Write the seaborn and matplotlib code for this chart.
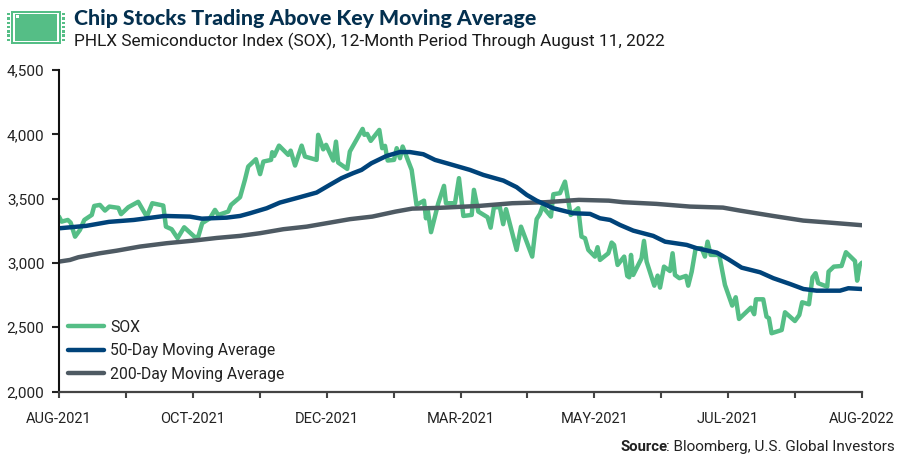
import matplotlib
matplotlib.use('Agg')
import matplotlib.pyplot as plt
from matplotlib.patches import Rectangle
import seaborn as sns

# days since the start of the 12-month window, with index level
sox_days = [0, 1.2, 4, 5.3, 7.3, 9.5, 11.5, 14.9, 16, 18.6, 20.9, 22.9, 27, 28.2, 31.5, 36, 39.9, 42.4, 47.4, 48.6,
            51.2, 53.9, 56.9, 61.8, 63.3, 65.1, 68.6, 70.9, 72.4, 76.9, 78.2, 82.3, 84.5, 86, 89.5, 91.4, 92.9, 96.4,
            96.9, 97.8, 100, 104.2, 105.3, 107.3, 110.3, 111.8, 117.1, 117.8, 120.1, 121.4, 124.7, 125.9, 126.9, 131,
            132.2, 138, 138.8, 140.1, 141.7, 145.6, 146.9, 148.2, 149.4, 152.3, 153.5, 155, 156.2, 160.3, 162.5, 165.9,
            166.8, 167.6, 169.1, 172.4, 175, 175.9, 180, 181.8, 183.8, 187.6, 188.6, 190.6, 194.8, 196.2, 197.7, 200.4,
            201.9, 203.2, 208, 210, 215.1, 217.1, 218.6, 219.8, 223.6, 224.7, 227.7, 230, 232.6, 236, 237.5, 239.1,
            240.6, 243.6, 244.8, 245.9, 249.7, 251.2, 252.3, 253.9, 256.9, 258.3, 259.2, 260, 261, 264.8, 265.9, 267.1,
            270.6, 272.1, 273.2, 275, 277.7, 278.9, 280, 282, 285, 286, 287.6, 289.4, 292.1, 293.6, 294.8, 296.2,
            300.1, 302.7, 306, 307.6, 309.1, 314.5, 316, 316.8, 320.1, 321.6, 322.7, 323.9, 328.5, 330, 334.5, 336.5,
            337.8, 340.9, 342.5, 343.9, 345.1, 349.2, 349.8, 352.2, 355.7, 357.7, 361.8, 362.8, 364, 365]
sox = [3360, 3321, 3334, 3313, 3204, 3256, 3334, 3373, 3443, 3451, 3407, 3438, 3428, 3379, 3433, 3475, 3360, 3464, 3446, 3282,
       3262, 3192, 3277, 3200, 3204, 3309, 3347, 3412, 3373, 3399, 3451, 3511, 3645, 3749, 3806, 3690, 3788, 3801,
       3861, 3832, 3912, 3840, 3873, 3757, 3912, 3827, 3801, 3996, 3883, 3918, 3796, 3943, 3780, 3731,
       3866, 4042, 3996, 4003, 3949, 4034, 3892, 3910, 3796, 3801, 3892, 3814, 3905, 3723, 3451, 3484,
       3347, 3412, 3239, 3464, 3599, 3464, 3464, 3659, 3365, 3373, 3568, 3399, 3355, 3274, 3433, 3433,
       3301, 3418, 3101, 3282, 3049, 3340, 3381, 3438, 3360, 3534, 3542, 3632, 3373, 3425, 3204, 3192,
       3101, 3049, 3122, 3023, 3075, 3158, 3140, 2984, 3049, 2899, 2888, 3062, 2906, 3036, 3171, 3010,
       2823, 2901, 2808, 2971, 2937, 3075, 2906, 2881, 2899, 2823, 2932, 3114, 3114, 3049, 3165, 3062,
       3062, 2829, 2668, 2733, 2564, 2652, 2601, 2717, 2717, 2582, 2570, 2453, 2478, 2616, 2548, 2595,
       2694, 2678, 2888, 2920, 2842, 2815, 2932, 2971, 2976, 3083, 3015, 2862, 2984, 3002]

ma50_days = [0, 12.4, 22.7, 34, 48, 59.5, 64.9, 76.2, 82.3, 86.8, 94.4, 100.4, 109.5, 117.1, 123.1, 128.4, 133.7, 137.5,
             142, 148.9, 155, 159.5, 165.6, 170.9, 177.7, 186.8, 192.9, 202, 208, 212.6, 217.1, 224.7, 233.8, 241.4,
             245.9, 250.5, 255, 261, 270.1, 275.5, 285.3, 289.9, 299, 304.2, 310.3, 318.7, 324.7, 332.3, 338.4, 344.4,
             355, 358.8, 365]
ma50 = [3269, 3288, 3319, 3334, 3365, 3360, 3344, 3352, 3365, 3386, 3425, 3469, 3511, 3547, 3607, 3659, 3698, 3723,
        3775, 3832, 3862, 3862, 3845, 3801, 3768, 3723, 3684, 3640, 3589, 3529, 3484, 3425, 3386, 3381,
        3347, 3334, 3295, 3251, 3210, 3165, 3140, 3114, 3080, 3029, 2963, 2927, 2881, 2836, 2797, 2784,
        2784, 2803, 2797]

ma200_days = [0, 5, 8.8, 18.6, 26.2, 36.8, 48.9, 61, 71.7, 82.3, 91.4, 102, 112.6, 123.1, 132.2, 142.4, 153, 160.5,
              172.7, 190.9, 206, 221.2, 236.3, 249.9, 256.4, 271.5, 286.8, 301.8, 309.4, 324.6, 338.3, 350.5, 365]
ma200 = [3010, 3023, 3044, 3075, 3095, 3127, 3153, 3173, 3194, 3210, 3231, 3262, 3282, 3313, 3340, 3360, 3399, 3422,
         3428, 3443, 3464, 3472, 3490, 3484, 3472, 3459, 3438, 3430, 3407, 3365, 3329, 3313, 3293]

x_labels = ['AUG-2021', 'OCT-2021', 'DEC-2021', 'MAR-2021', 'MAY-2021', 'JUL-2021', 'AUG-2022']
y_ticks = [2000, 2500, 3000, 3500, 4000, 4500]

GREEN = '#55BE86'
NAVY = '#00437A'
GREY = '#4E5A63'

sns.set_theme(style='ticks')
plt.rcParams['font.family'] = ['Roboto', 'DejaVu Sans']

fig = plt.figure(figsize=(9, 4.59), dpi=100)
ax = fig.add_axes([59 / 900, 1 - 391.5 / 459, 803 / 900, 321.5 / 459])

sns.lineplot(x=sox_days, y=sox, color=GREEN, lw=3.2, label='SOX', estimator=None, sort=False, ax=ax)
sns.lineplot(x=ma200_days, y=ma200, color=GREY, lw=3.2, label='200-Day Moving Average', estimator=None, sort=False, ax=ax)
sns.lineplot(x=ma50_days, y=ma50, color=NAVY, lw=3.2, label='50-Day Moving Average', estimator=None, sort=False, ax=ax)

ax.set_xlim(0, 365)
ax.set_ylim(2000, 4500)
ax.set_yticks(y_ticks)
ax.set_yticklabels([f'{v:,}' for v in y_ticks], fontsize=11, color='#222222')
ax.set_xticks([i * 365 / 12 for i in range(13)])
ax.set_xticklabels([x_labels[i // 2] if i % 2 == 0 else '' for i in range(13)], fontsize=10.5, color='#222222')
ax.tick_params(axis='y', length=5, width=1.5, color='#222222', pad=5.5)
ax.tick_params(axis='x', length=4, width=1.5, color='#444444', pad=11)
sns.despine(ax=ax)
ax.spines['left'].set_linewidth(1.5)
ax.spines['left'].set_color('#111111')
ax.spines['bottom'].set_linewidth(1.6)
ax.spines['bottom'].set_color('#444444')

handles, labels = ax.get_legend_handles_labels()
order = [0, 2, 1]
leg = ax.legend([handles[i] for i in order], [labels[i] for i in order], loc='lower left', frameon=False,
                bbox_to_anchor=(9 / 803, 10 / 321.5), borderaxespad=0, borderpad=0, fontsize=11.3, handlelength=2.3,
                handletextpad=0.4, labelspacing=0.53, labelcolor='#222222')
for line in leg.get_lines():
    line.set_linewidth(3.2)
    line.set_solid_capstyle('round')

# chip icon next to the title
def px_rect(x, y, w, h, **kw):
    fig.add_artist(Rectangle((x / 900, 1 - (y + h) / 459), w / 900, h / 459, transform=fig.transFigure, **kw))

px_rect(11, 11, 50, 32.5, facecolor=GREEN, edgecolor='none')
px_rect(13, 13, 46, 28.5, facecolor='white', edgecolor='none')
px_rect(14.5, 14, 43, 26.5, facecolor=GREEN, edgecolor='none')
px_rect(16, 15, 3, 3, facecolor='white', edgecolor='none')
for k in range(7):
    px_rect(7, 13 + k * 4.3, 3, 2.4, facecolor=GREEN, edgecolor='none')
    px_rect(62, 13 + k * 4.3, 3, 2.4, facecolor=GREEN, edgecolor='none')

fig.text(74.5 / 900, 1 - 18 / 459, 'Chip Stocks Trading Above Key Moving Average', fontsize=15.3, fontweight='black',
         family=['Lato', 'DejaVu Sans'], color='#04304F', va='center', ha='left')
fig.text(74.5 / 900, 1 - 41 / 459, 'PHLX Semiconductor Index (SOX), 12-Month Period Through August 11, 2022',
         fontsize=12.4, color='#1A1A1A', va='center', ha='left')
fig.text(668 / 900, 1 - 447 / 459, 'Source', fontsize=10.7, fontweight='bold', color='#222222', va='center', ha='right')
fig.text(895 / 900, 1 - 447 / 459, ': Bloomberg, U.S. Global Investors', fontsize=11, color='#222222',
         va='center', ha='right')

fig.savefig('out.png', dpi=100)
